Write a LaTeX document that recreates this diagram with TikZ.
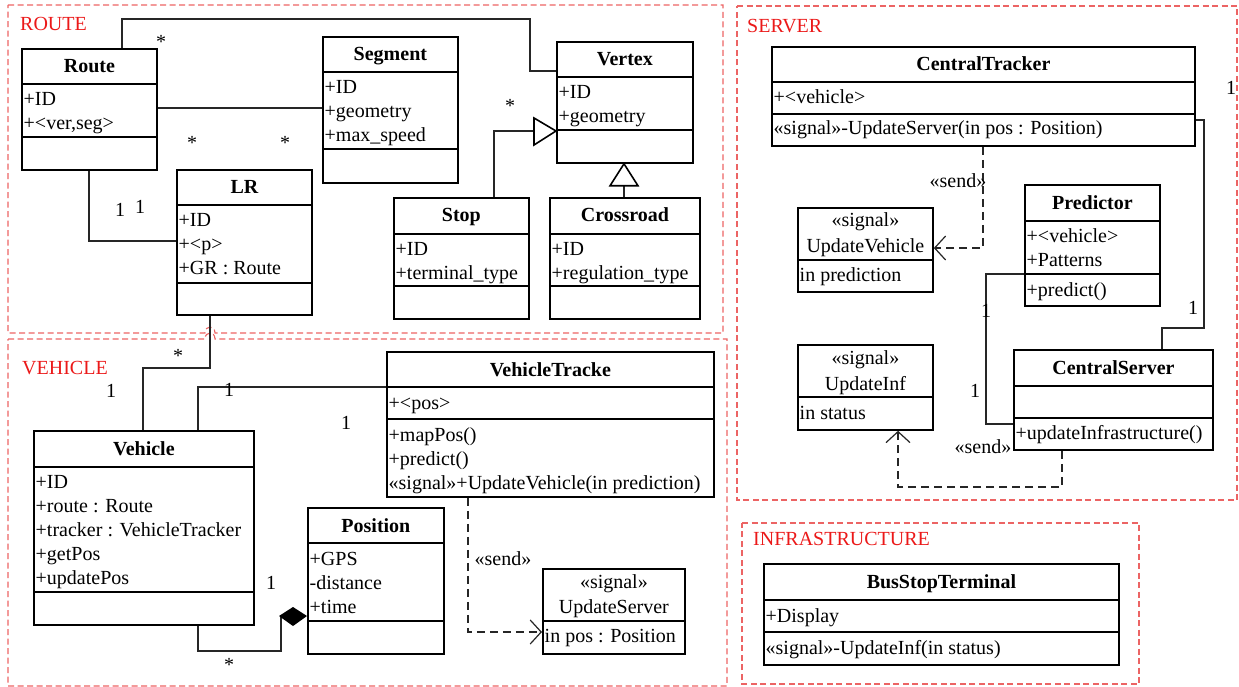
\documentclass[tikz,border=0pt]{standalone}
\usepackage{fontspec}
\setmainfont{Liberation Serif}
\usetikzlibrary{arrows.meta}
\definecolor{pkgred}{RGB}{236,100,100}
\definecolor{lblred}{RGB}{235,25,25}
\newcount\tcnt
\tikzset{
 every node/.style={font=\fontsize{20}{24}\selectfont, inner sep=0pt},
 cls/.style={draw, line width=1.8pt, rectangle, inner sep=0pt},
 divl/.style={line width=1.8pt},
 conn/.style={line width=1.1pt, color=black!85},
 dep/.style={line width=1.2pt, color=black!85, dash pattern=on 8pt off 5pt, -{Straight Barb[length=11pt,width=24pt]}},
 pkg/.style={draw=pkgred, line width=1.1pt, dash pattern=on 6pt off 3.5pt},
 pkglbl/.style={text=lblred, anchor=base west},
 txt/.style={anchor=base west, xshift=2.5pt},
 ttl/.style={anchor=base, font=\fontsize{20}{24}\selectfont\bfseries},
 ctr/.style={anchor=base},
 mult/.style={anchor=base},
}
\newcommand\cbox[5]{\node[cls, anchor=north west, minimum width={(#4)-(#2)}, minimum height={(#5)-(#3)}] (#1) at (#2,#3) {};}
\newcommand\cdiv[2]{\draw[divl] (#1.west |- 0,#2) -- (#1.east |- 0,#2);}
\newcommand\ctitle[3]{\global\advance\tcnt by 1 \node[ttl] (t\the\tcnt) at (#1.north |- 0,#3) {#2};}
\newcommand\ctxt[3]{\global\advance\tcnt by 1 \node[txt] (t\the\tcnt) at (#1.west |- 0,#2) {#3};}
\newcommand\cctr[3]{\global\advance\tcnt by 1 \node[ctr] (t\the\tcnt) at (#1.north |- 0,#2) {#3};}
\begin{document}
\begin{tikzpicture}[x=1pt,y=-1pt]
\useasboundingbox (0,0) rectangle (1239,687);
% ---------- packages ----------
\draw[pkg] (8,5) -- (723,5) -- (723,333) -- (215,333) .. controls (215,325) and (205,325) .. (205,333) -- (8,333) -- cycle;
\draw[pkg] (8,339) -- (205,339) .. controls (205,331) and (215,331) .. (215,339) -- (727,339) -- (727,686) -- (8,686) -- cycle;
\draw[pkg] (737,6) -- (1237,6) -- (1237,500) -- (737,500) -- cycle;
\draw[pkg] (742,523) -- (1139,523) -- (1139,684) -- (742,684) -- cycle;
\node[pkglbl] (proute) at (20,31) {ROUTE};
\node[pkglbl] (pveh) at (22,374) {VEHICLE};
\node[pkglbl] (pserv) at (747,33) {SERVER};
\node[pkglbl] (pinf) at (753,545) {INFRASTRUCTURE};
% ---------- ROUTE ----------
\cbox{route}{21}{48}{156}{169}
\cdiv{route}{84}\cdiv{route}{137}
\ctitle{route}{Route}{73}
\ctxt{route}{105.5}{+ID}
\ctxt{route}{129.5}{+<ver,seg>}

\cbox{segment}{322}{36}{457}{182}
\cdiv{segment}{72}\cdiv{segment}{149}
\ctitle{segment}{Segment}{61}
\ctxt{segment}{93.5}{+ID}
\ctxt{segment}{117.5}{+geometry}
\ctxt{segment}{141.5}{+max\_speed}

\cbox{lr}{176}{169}{311}{314}
\cdiv{lr}{205}\cdiv{lr}{283}
\ctitle{lr}{LR}{194}
\ctxt{lr}{226.5}{+ID}
\ctxt{lr}{250.5}{+<p>}
\ctxt{lr}{274.5}{+GR : Route}

\cbox{vertex}{556}{41}{692}{162}
\cdiv{vertex}{77}\cdiv{vertex}{130}
\ctitle{vertex}{Vertex}{66}
\ctxt{vertex}{98.5}{+ID}
\ctxt{vertex}{122.5}{+geometry}

\cbox{stop}{393}{197}{528}{318}
\cdiv{stop}{234}\cdiv{stop}{286}
\ctitle{stop}{Stop}{222}
\ctxt{stop}{255.5}{+ID}
\ctxt{stop}{279.5}{+terminal\_type}

\cbox{cross}{549}{197}{699}{318}
\cdiv{cross}{234}\cdiv{cross}{286}
\ctitle{cross}{Crossroad}{222}
\ctxt{cross}{255.5}{+ID}
\ctxt{cross}{279.5}{+regulation\_type}

% ---------- VEHICLE ----------
\cbox{vehicle}{33}{430}{253}{624}
\cdiv{vehicle}{467}\cdiv{vehicle}{592}
\ctitle{vehicle}{Vehicle}{455}
\ctxt{vehicle}{488.5}{+ID}
\ctxt{vehicle}{512.5}{+route : Route}
\ctxt{vehicle}{536.5}{+tracker : VehicleTracker}
\ctxt{vehicle}{560.5}{+getPos}
\ctxt{vehicle}{584.5}{+updatePos}

\cbox{vt}{386}{351}{713}{496}
\cdiv{vt}{387}\cdiv{vt}{419}
\ctitle{vt}{VehicleTracke}{376}
\ctxt{vt}{409}{+<pos>}
\ctxt{vt}{441}{+mapPos()}
\ctxt{vt}{465}{+predict()}
\ctxt{vt}{489}{«signal»+UpdateVehicle(in prediction)}

\cbox{position}{307}{507}{443}{653}
\cdiv{position}{543}\cdiv{position}{621}
\ctitle{position}{Position}{532}
\ctxt{position}{565}{+GPS}
\ctxt{position}{589}{-distance}
\ctxt{position}{613}{+time}

\cbox{us}{542}{568}{684}{653}
\cdiv{us}{621}
\cctr{us}{588}{«signal»}
\cctr{us}{613}{UpdateServer}
\ctxt{us}{642}{in pos : Position}

% ---------- SERVER ----------
\cbox{ct}{771}{46}{1194}{145}
\cdiv{ct}{82}\cdiv{ct}{114}
\ctitle{ct}{CentralTracker}{71}
\ctxt{ct}{104}{+<vehicle>}
\ctxt{ct}{135}{«signal»-UpdateServer(in pos : Position)}

\cbox{uv}{797}{207}{932}{291}
\cdiv{uv}{260}
\cctr{uv}{226}{«signal»}
\cctr{uv}{252}{UpdateVehicle}
\ctxt{uv}{281}{in prediction}

\cbox{pred}{1024}{184}{1159}{305}
\cdiv{pred}{221}\cdiv{pred}{274}
\ctitle{pred}{Predictor}{209}
\ctxt{pred}{242.5}{+<vehicle>}
\ctxt{pred}{266.5}{+Patterns}
\ctxt{pred}{296}{+predict()}

\cbox{cs}{1013}{349}{1212}{449}
\cdiv{cs}{386}\cdiv{cs}{418}
\ctitle{cs}{CentralServer}{374}
\ctxt{cs}{439}{+updateInfrastructure()}

\cbox{ui}{797}{344}{932}{429}
\cdiv{ui}{397}
\cctr{ui}{364}{«signal»}
\cctr{ui}{390}{UpdateInf}
\ctxt{ui}{419}{in status}

% ---------- INFRASTRUCTURE ----------
\cbox{bst}{763}{563}{1118}{664}
\cdiv{bst}{600}\cdiv{bst}{632}
\ctitle{bst}{BusStopTerminal}{588}
\ctxt{bst}{622}{+Display}
\ctxt{bst}{654}{«signal»-UpdateInf(in status)}

% ---------- connectors ----------
\draw[conn] (route.north -| 122,0) -- (122,19) -- (530,19) -- (530,71) -- (vertex.west |- 0,71);
\draw[conn] (route.east |- 0,108) -- (segment.west |- 0,108);
\draw[conn] (route.south -| 89,0) |- (lr.west |- 0,241);
\draw[conn] (stop.north -| 494,0) |- (534,131);
\draw[line width=1.6pt, fill=white] (vertex.west |- 0,131) -- ++(-22,-13) -- ++(0,27) -- cycle;
\draw[conn] (cross.north -| 624,0) -- (624,184);
\draw[line width=1.6pt, fill=white] (vertex.south -| 624,0) -- ++(-14,22) -- ++(28,0) -- cycle;
\draw[conn] (lr.south -| 210,0) -- (210,368) -| (vehicle.north -| 143,0);
\draw[conn] (vehicle.north -| 198,0) |- (vt.west |- 0,387);
\draw[conn] (vehicle.south -| 198,0) -- (198,651) -- (281,651) -- (281,616);
\fill (position.west |- 0,616) -- ++(-14,-9) -- ++(-14,9) -- ++(14,10) -- cycle;
\draw[dep] (vt.south -| 468,0) |- (us.west |- 0,632);
\draw[conn] (ct.east |- 0,120) -- (1204,120) -- (1204,328) -- (1162,328) -- (cs.north -| 1162,0);
\draw[dep] (ct.south -| 983,0) |- (uv.east |- 0,248);
\draw[conn] (pred.west |- 0,274) -- (986,274) -- (986,424) -- (cs.west |- 0,424);
\draw[dep] (cs.south -| 1062,0) -- (1062,487) -| (ui.south -| 898,0);

% ---------- multiplicities and labels ----------
\node[mult] (m1) at (161,49) {*};
\node[mult] (m2) at (192,150) {*};
\node[mult] (m3) at (285,150) {*};
\node[mult] (m4) at (120,216) {1};
\node[mult] (m5) at (140,214) {1};
\node[mult] (m6) at (510,113) {*};
\node[mult] (m7) at (178,362) {*};
\node[mult] (m8) at (111,397) {1};
\node[mult] (m9) at (229,396) {1};
\node[mult] (m10) at (346,429) {1};
\node[mult] (m11) at (271,589) {1};
\node[mult] (m12) at (229,671) {*};
\node[mult] (m13) at (1231,95) {1};
\node[mult] (m14) at (1193,314) {1};
\node[mult] (m15) at (986,317) {1};
\node[mult] (m16) at (975,397) {1};
\node[ctr] (s1) at (503,565) {«send»};
\node[ctr] (s2) at (958,188) {«send»};
\node[ctr] (s3) at (983,453) {«send»};
\end{tikzpicture}
\end{document}
